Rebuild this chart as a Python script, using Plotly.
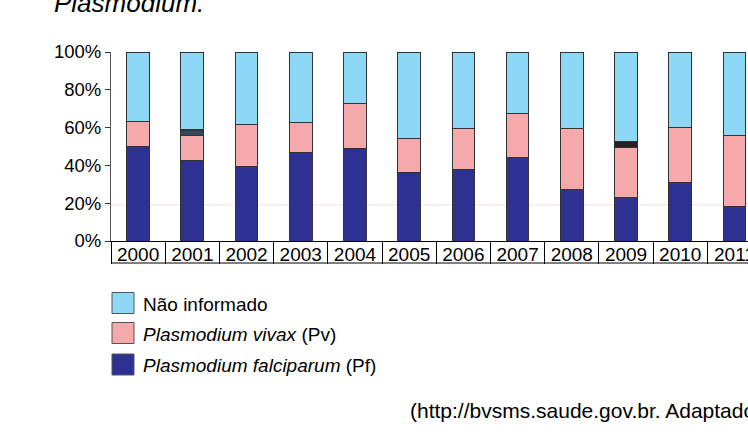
import plotly.graph_objects as go

# 연도별 비율 (%)
anos = ['2000', '2001', '2002', '2003', '2004', '2005',
        '2006', '2007', '2008', '2009', '2010', '2011']
pf = [50.0, 42.7, 39.5, 46.6, 49.0, 36.0, 37.9, 44.1, 27.5, 22.8, 31.0, 18.2]
pv = [13.1, 13.0, 22.2, 16.2, 23.8, 18.0, 21.7, 23.4, 32.1, 26.6, 28.9, 37.5]
misto = [0, 2.7, 0, 0, 0, 0, 0, 0, 0, 3.5, 0, 0]
outros = [0, 0.7, 0, 0, 0, 0, 0, 0, 0, 0, 0, 0]
nao_inf = [100 - a - b - c - d for a, b, c, d in zip(pf, pv, misto, outros)]

cor_pf = '#2E3192'
cor_pv = '#F5A9AB'
cor_nao = '#8DD8F7'
cor_misto = ['#24211F' if a == '2009' else '#34495A' for a in anos]

y_ticks = [0, 20, 40, 60, 80, 100]
y_text = ['0%', '20%', '40%', '60%', '80%', '100%']

FONT = 'Liberation Sans, Arial, sans-serif'
W, H = 748, 439
L, T, B = 111, 52, 198
plot_w = W - L
plot_h = H - T - B


def px_x(x):
    return (x - L) / plot_w


def px_y(y):
    return (H - B - y) / plot_h


fig = go.Figure()
borda = dict(color='#333333', width=1)
for nome, vals, cor in [('Plasmodium falciparum (Pf)', pf, cor_pf),
                        ('Plasmodium vivax (Pv)', pv, cor_pv),
                        ('Misto', misto, cor_misto),
                        ('Outros', outros, cor_pv),
                        ('Não informado', nao_inf, cor_nao)]:
    fig.add_trace(go.Bar(x=anos, y=vals, name=nome, width=0.42,
                         marker=dict(color=cor, line=borda), showlegend=False))

fig.update_layout(
    barmode='stack',
    width=W, height=H,
    margin=dict(l=L, r=0, t=T, b=B),
    paper_bgcolor='white', plot_bgcolor='white',
    font=dict(family=FONT, size=19, color='black'),
)

fig.update_yaxes(range=[0, 100], tickvals=y_ticks, ticktext=y_text,
                 ticks='outside', ticklen=5, tickcolor='#333333',
                 showline=True, linecolor='#555555', linewidth=1,
                 showgrid=False, zeroline=False, tickfont=dict(size=18.5),
                 automargin=False)

fig.update_xaxes(type='category', range=[-0.5, 11.25], tickson='boundaries',
                 ticks='outside', ticklen=22, tickcolor='black', tickwidth=1,
                 ticklabelstandoff=-4, automargin=False,
                 showline=True, linecolor='black', linewidth=1,
                 showgrid=False, tickfont=dict(size=19))

# linha inferior da tabela de anos
fig.add_shape(type='line', xref='paper', yref='paper',
              x0=0, x1=1, y0=px_y(263), y1=px_y(263),
              line=dict(color='black', width=1))

# linha rosa clara
fig.add_shape(type='line', xref='paper', yref='paper', layer='below',
              x0=-0.05, x1=1, y0=px_y(205), y1=px_y(205),
              line=dict(color='#F6DDE4', width=1))

# título (cortado)
fig.add_annotation(text='<i>Plasmodium.</i>', xref='paper', yref='paper',
                   x=px_x(52), y=px_y(3), xanchor='left', yanchor='middle',
                   showarrow=False, font=dict(size=26))

# legenda
legenda = [('Não informado', cor_nao, 303),
           ('<i>Plasmodium vivax</i> (Pv)', cor_pv, 333),
           ('<i>Plasmodium falciparum</i> (Pf)', cor_pf, 364.5)]
for texto, cor, yc in legenda:
    fig.add_shape(type='rect', xref='paper', yref='paper',
                  x0=px_x(112), x1=px_x(134), y0=px_y(yc - 10.5), y1=px_y(yc + 10.5),
                  fillcolor=cor, line=dict(color='#555555', width=1))
    fig.add_annotation(text=texto, xref='paper', yref='paper',
                       x=px_x(141), y=px_y(yc + 1), xanchor='left', yanchor='middle',
                       showarrow=False, font=dict(size=19))

fig.add_annotation(text='(http://bvsms.saude.gov.br. Adaptado)', xref='paper', yref='paper',
                   x=px_x(408), y=px_y(410), xanchor='left', yanchor='middle',
                   showarrow=False, font=dict(size=21))

fig.write_html('out.html', config={'displayModeBar': False},
               post_script="document.body.style.margin='0';")
